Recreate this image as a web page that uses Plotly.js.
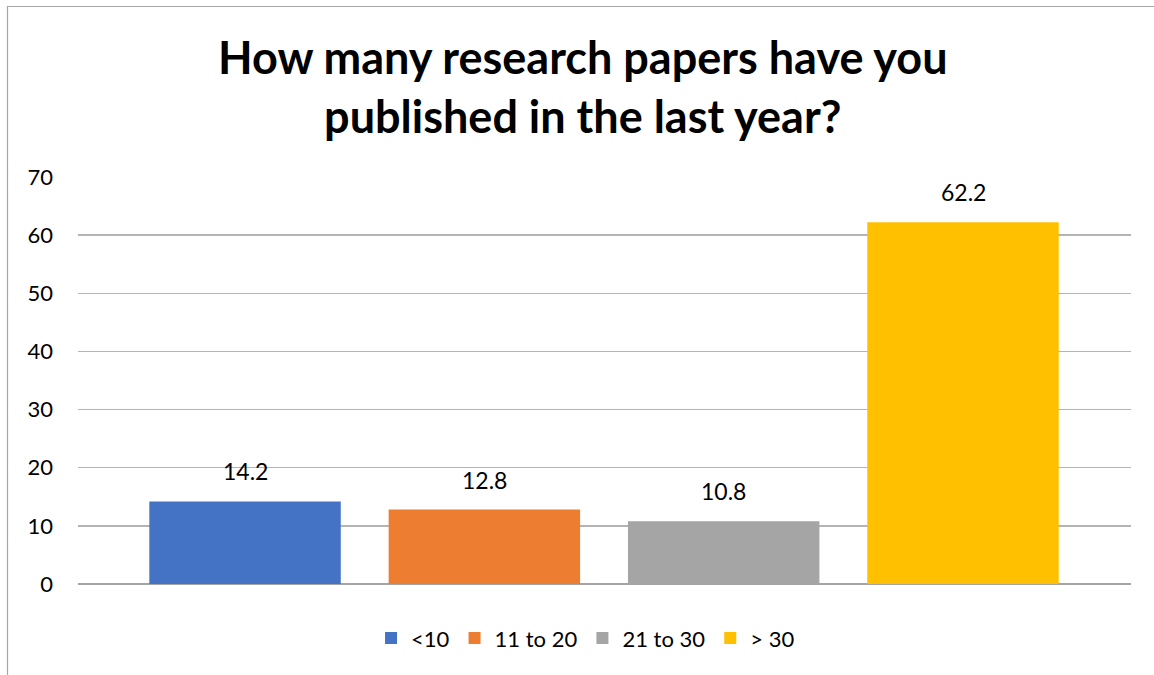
<!DOCTYPE html>
<html>
<head>
<meta charset="utf-8">
<script src="https://cdn.plot.ly/plotly-3.0.1.min.js"></script>
<style>
  html, body { margin: 0; padding: 0; background: #fff; }
  #chart { width: 1154px; height: 675px; }
</style>
</head>
<body>
<div id="chart"></div>
<script>
// Survey answers: number of research papers published in the last year
const categories = ['<10', '11 to 20', '21 to 30', '> 30'];
const values = [14.2, 12.8, 10.8, 62.2];
const colors = ['#4472C4', '#ED7D31', '#A5A5A5', '#FFC000'];
const yTicks = [0, 10, 20, 30, 40, 50, 60, 70];

const FONT = 'Lato, "Open Sans", sans-serif';

// One trace per answer so each gets its own legend entry
const traces = categories.map((c, i) => ({
  type: 'bar',
  name: c,
  x: [i],
  y: [values[i]],
  width: 0.8,
  marker: { color: colors[i] },
  hoverinfo: 'name+y'
}));

// Value labels sitting above each bar
const labels = categories.map((c, i) => ({
  x: i,
  y: values[i],
  xref: 'x',
  yref: 'y',
  text: String(values[i]),
  showarrow: false,
  yanchor: 'bottom',
  yshift: 14,
  font: { family: FONT, size: 23, color: '#000' }
}));

const layout = {
  width: 1154,
  height: 675,
  margin: { l: 78, r: 23, t: 177, b: 91 },
  paper_bgcolor: '#fff',
  plot_bgcolor: '#fff',
  barmode: 'overlay',
  showlegend: true,
  title: {
    text: '<b>How many research papers have you<br>published in the last year?</b>',
    x: 0.505,
    xanchor: 'center',
    y: 0.89,
    yanchor: 'middle',
    font: { family: FONT, size: 45, color: '#000' }
  },
  xaxis: {
    range: [-0.698, 3.702],
    showticklabels: false,
    showgrid: false,
    zeroline: false,
    fixedrange: true
  },
  yaxis: {
    range: [0, 70],
    tickvals: yTicks,
    ticktext: yTicks.map(String),
    showgrid: true,
    gridcolor: '#b4b4b4',
    gridwidth: 1.3,
    zeroline: true,
    zerolinecolor: '#a4a4a4',
    zerolinewidth: 1.5,
    showline: false,
    ticks: '',
    ticklabelstandoff: 24,
    tickfont: { family: FONT, size: 22, color: '#000' },
    fixedrange: true
  },
  legend: {
    orientation: 'h',
    x: 0.482,
    xanchor: 'center',
    y: -0.133,
    yanchor: 'middle',
    font: { family: FONT, size: 22, color: '#000' },
    itemwidth: 30,
    traceorder: 'normal'
  },
  annotations: labels,
  shapes: [{
    type: 'rect',
    xref: 'paper',
    yref: 'paper',
    x0: (7.5 - 78) / 1053,
    x1: (1160 - 78) / 1053,
    y0: (584 - 680) / 407,
    y1: (584 - 6.5) / 407,
    line: { color: '#a6a6a6', width: 1.2 },
    fillcolor: 'rgba(0,0,0,0)',
    layer: 'below'
  }]
};

Plotly.newPlot('chart', traces, layout, { displayModeBar: false, staticPlot: true });
</script>
</body>
</html>
